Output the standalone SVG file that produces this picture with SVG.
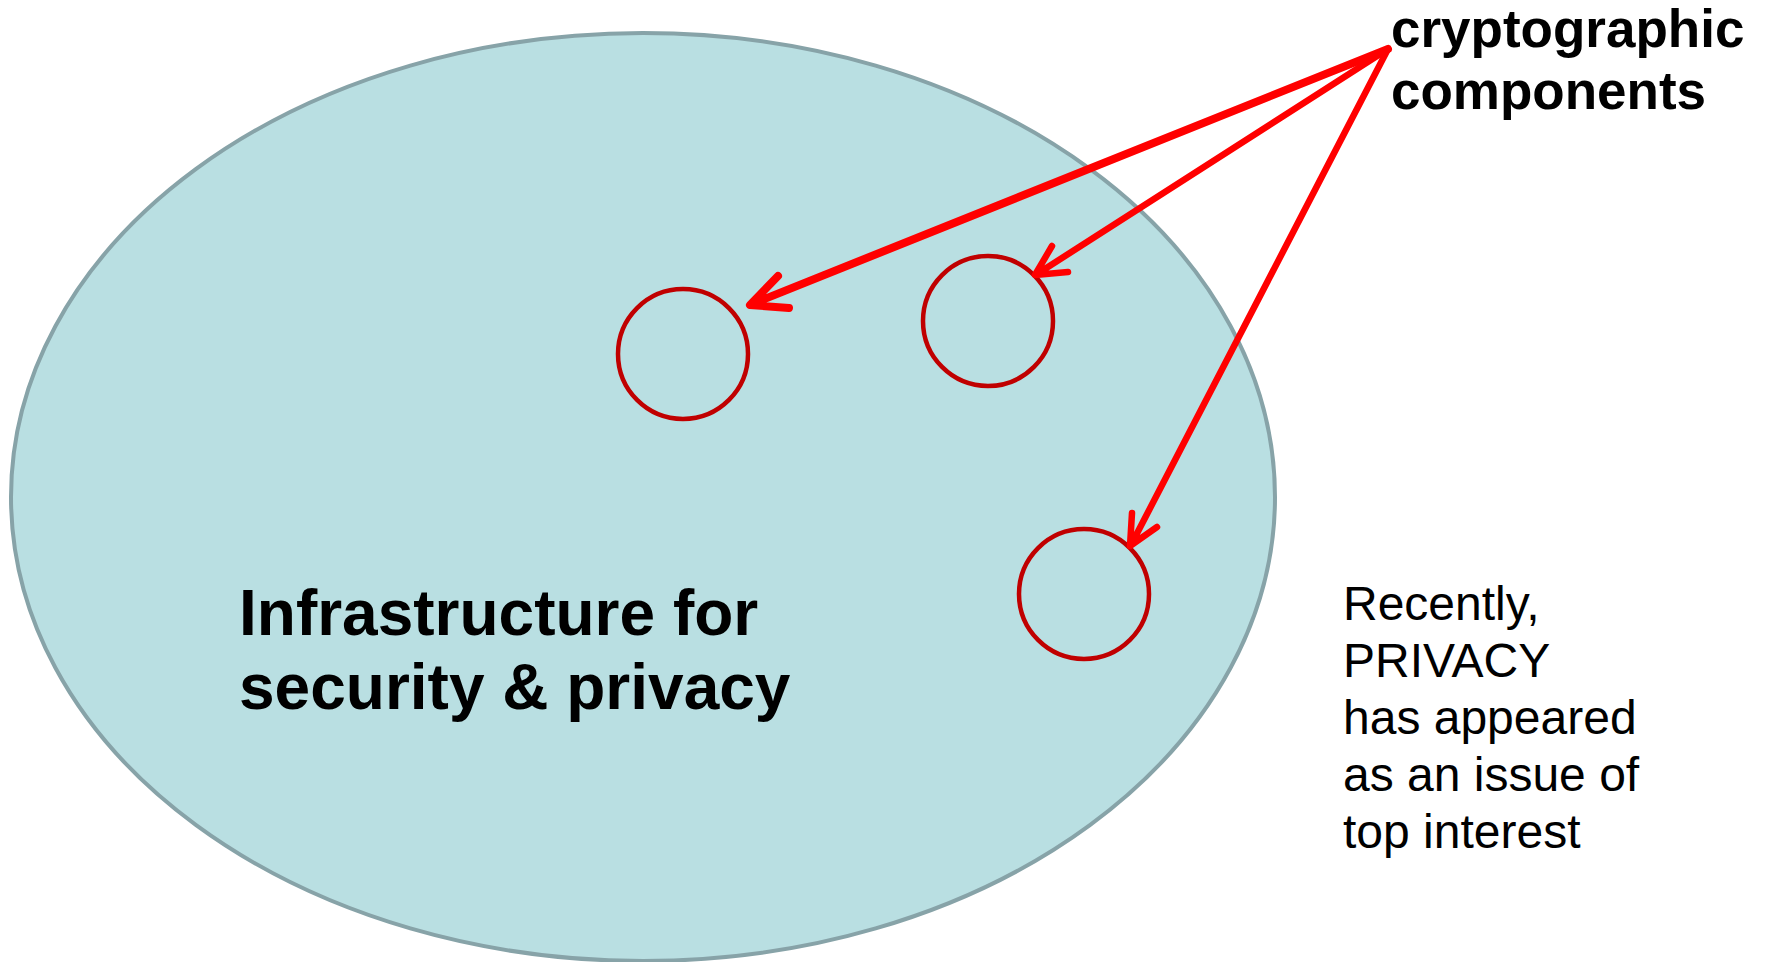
<svg xmlns="http://www.w3.org/2000/svg" width="1765" height="962" viewBox="0 0 1765 962">
<style>
.bold{font-family:"Liberation Sans",Arial,sans-serif;font-weight:bold;fill:#000}
.reg{font-family:"Liberation Sans",Arial,sans-serif;fill:#000}
.comp{fill:none;stroke:#c00000;stroke-width:4.5}
.arr{fill:none;stroke:#ff0000;stroke-linecap:round;stroke-linejoin:round}
</style>
<rect width="1765" height="962" fill="#ffffff"/>
<g id="infrastructure">
<ellipse cx="643" cy="497" rx="632" ry="464" fill="#b9dfe2" stroke="#87a3a8" stroke-width="4"/>
<text class="bold" font-size="64"><tspan x="239" y="635">Infrastructure for</tspan><tspan x="239" y="709">security &amp; privacy</tspan></text>
</g>
<g id="component1"><circle class="comp" cx="683" cy="354" r="65"/></g>
<g id="component2"><circle class="comp" cx="988" cy="321" r="65"/></g>
<g id="component3"><circle class="comp" cx="1084" cy="594" r="65"/></g>
<g id="label-crypto">
<text class="bold" font-size="53"><tspan x="1391" y="47">cryptographic</tspan><tspan x="1391" y="109">components</tspan></text>
</g>
<g id="note">
<text class="reg" font-size="48"><tspan x="1343" y="620">Recently,</tspan><tspan x="1343" y="677">PRIVACY</tspan><tspan x="1343" y="734">has appeared</tspan><tspan x="1343" y="791">as an issue of</tspan><tspan x="1343" y="848">top interest</tspan></text>
</g>
<g id="connectors">
<path class="arr" stroke-width="8" d="M1388,49 L752,304 M778,276 L750,305 L789,308"/>
<path class="arr" stroke-width="6.5" d="M1388,49 L1037,274 M1052,246 L1035,275 L1068,272"/>
<path class="arr" stroke-width="6.5" d="M1388,49 L1131,545 M1132,513 L1130,546 L1157,527"/>
</g>
</svg>
